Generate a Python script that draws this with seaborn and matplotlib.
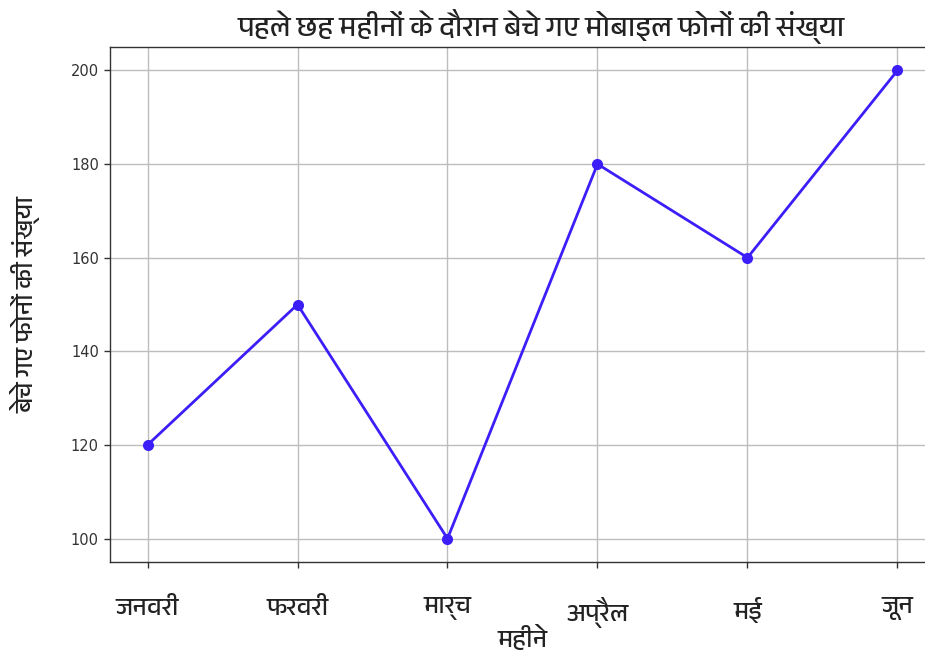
import matplotlib
matplotlib.use("Agg")
import matplotlib.pyplot as plt
from matplotlib import font_manager
import seaborn as sns
import pandas as pd

months = ["जनवरी", "फरवरी", "मार्च", "अप्रैल", "मई", "जून"]
phones_sold = [120, 150, 100, 180, 160, 200]
y_ticks = [100, 120, 140, 160, 180, 200]
title_text = "पहले छह महीनों के दौरान बेचे गए मोबाइल फोनों की संख्या"
x_label = "महीने"
y_label = "बेचे गए फोनों की संख्या"

# find a font with Devanagari glyphs
deva_family = None
try:
    from fontTools.ttLib import TTFont
    seen = set()
    for f in font_manager.fontManager.ttflist:
        if f.fname in seen:
            continue
        seen.add(f.fname)
        try:
            tt = TTFont(f.fname, fontNumber=0, lazy=True)
            cmap = tt.getBestCmap()
            if cmap and 0x0928 in cmap and 0x092E in cmap:
                deva_family = f.name
                if "Devanagari" in f.name or "Lohit" in f.name:
                    break
        except Exception:
            pass
except Exception:
    pass

sns.set_theme(style="white")
fams = ([deva_family] if deva_family else []) + ["DejaVu Sans"]
plt.rcParams["font.family"] = fams

df = pd.DataFrame({"month": months, "sold": phones_sold})

fig = plt.figure(figsize=(9.25, 6.5), dpi=100)
ax = fig.add_axes([110 / 925, 1 - 562 / 650, 825 / 925, (562 - 47) / 650])

sns.lineplot(data=df, x="month", y="sold", ax=ax, color="#3c1ef8", linewidth=2,
             marker="o", markersize=8, markeredgewidth=0, sort=False)

ax.set_ylim(95, 205)
ax.set_xlim(-0.25, 5.25)
ax.set_yticks(y_ticks)
ax.set_yticklabels([str(v) for v in y_ticks], family="DejaVu Sans", fontsize=10.5, color="#333333")
ax.set_xticks(range(len(months)))
ax.set_xticklabels(months, fontsize=18, color="#222222")
ax.tick_params(axis="x", pad=21, length=4, width=1, color="#333333", bottom=True)
ax.tick_params(axis="y", pad=4, length=4, width=1, color="#333333", left=True)
ax.grid(True, color="#bdbdbd", linewidth=1)
for s in ax.spines.values():
    s.set_color("#333333")
    s.set_linewidth(1)
ax.set_title(title_text, fontsize=20.5, color="#222222", pad=8, x=0.523)
ax.set_xlabel(x_label, fontsize=18, color="#222222", labelpad=-2)
ax.set_ylabel(y_label, fontsize=18, color="#222222", labelpad=22)

fig.savefig("out.png", dpi=100)
